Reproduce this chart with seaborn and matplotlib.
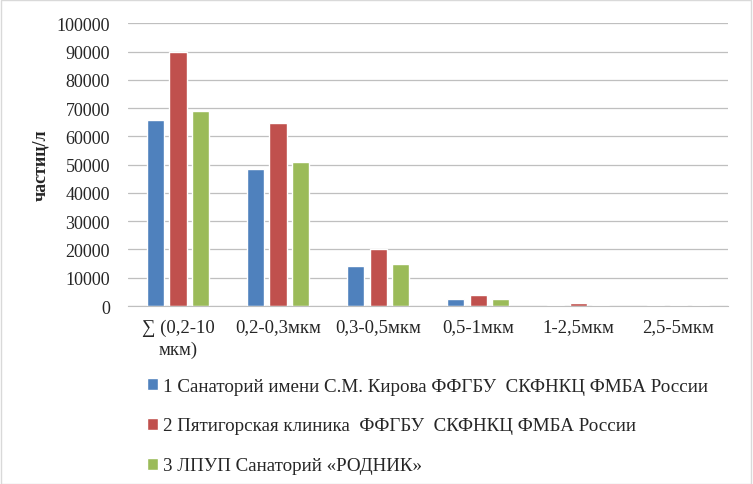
import matplotlib
matplotlib.use("Agg")
import matplotlib.pyplot as plt
import seaborn as sns
import pandas as pd
from matplotlib.ticker import FixedLocator

categories = ["\u2211 (0,2-10\nмкм)", "0,2-0,3мкм", "0,3-0,5мкм", "0,5-1мкм", "1-2,5мкм", "2,5-5мкм"]
series_names = [
    "1 Санаторий имени С.М. Кирова ФФГБУ  СКФНКЦ ФМБА России",
    "2 Пятигорская клиника  ФФГБУ  СКФНКЦ ФМБА России",
    "3 ЛПУП Санаторий «РОДНИК»",
]
kirov = [65800, 48500, 14200, 2500, 400, 350]
pyatigorsk = [90000, 64800, 20200, 4000, 1200, 450]
rodnik = [69000, 51000, 14900, 2500, 400, 350]
colors = ["#4F81BD", "#C0504D", "#9BBB59"]
yticks = [0, 10000, 20000, 30000, 40000, 50000, 60000, 70000, 80000, 90000, 100000]

sns.set_style("white")
plt.rcParams["font.family"] = ["Liberation Serif", "DejaVu Serif"]

rows = []
for name, vals in zip(series_names, [kirov, pyatigorsk, rodnik]):
    for c, v in zip(categories, vals):
        rows.append({"cat": c, "series": name, "value": v})
df = pd.DataFrame(rows)

fig = plt.figure(figsize=(7.53, 4.85), dpi=100)
ax = fig.add_axes([0.170, 0.367, 0.797, 0.583])
sns.barplot(data=df, x="cat", y="value", hue="series", order=categories,
            hue_order=series_names, palette=colors, width=0.675, gap=0.24,
            saturation=1, ax=ax, legend=True)

ax.set_ylim(0, 100000)
ax.set_xlim(-0.5, len(categories) - 0.5)
ax.set_yticks(yticks)
ax.set_yticklabels([str(t) for t in yticks], fontsize=13)
ax.yaxis.grid(True, color="#BFBFBF", linewidth=0.9)
ax.set_axisbelow(True)
for s in ["top", "right", "left"]:
    ax.spines[s].set_visible(False)
ax.spines["bottom"].set_color("#BFBFBF")
ax.tick_params(axis="y", length=0, pad=13)
ax.tick_params(axis="x", which="major", length=0, labelsize=13.5, pad=9)
for lbl in ax.get_xticklabels():
    lbl.set_linespacing(1.35)
ax.xaxis.set_minor_locator(FixedLocator([i - 0.5 for i in range(len(categories) + 1)]))
ax.tick_params(axis="x", which="minor", length=5, color="#BFBFBF", width=0.9)
ax.set_xlabel("")
ax.set_ylabel("частиц/л", fontsize=13, fontweight="bold", labelpad=5)

handles, labels = ax.get_legend_handles_labels()
ax.get_legend().remove()
fig.legend(handles, labels, loc="upper left", bbox_to_anchor=(0.185, 0.235),
           frameon=False, fontsize=13.7, handlelength=0.6, handleheight=0.6,
           handletextpad=0.25, labelspacing=1.2, borderaxespad=0)

fig.patches.append(plt.Rectangle((0.001, 0.001), 0.997, 0.997, transform=fig.transFigure,
                                 fill=False, edgecolor="#D9D9D9", linewidth=1))
fig.savefig("out.png", dpi=100, facecolor="white")
